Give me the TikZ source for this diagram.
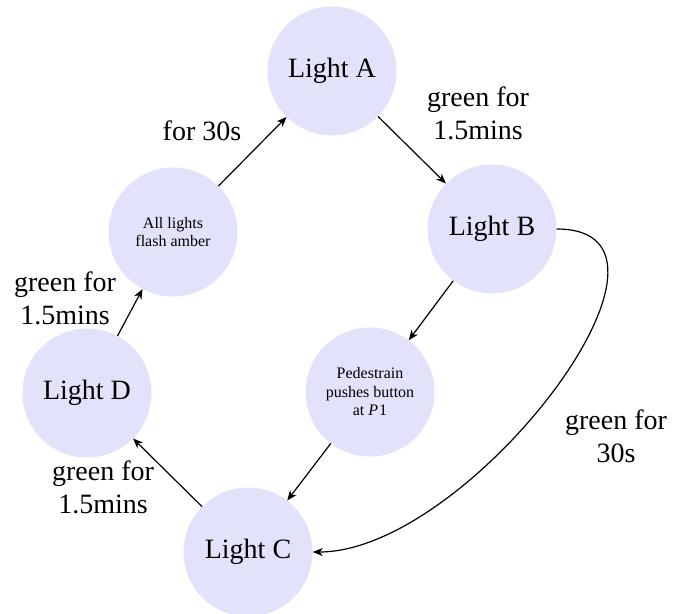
\documentclass[tikz,border=0pt]{standalone}
\usepackage{fontspec}
\setmainfont{Liberation Serif}
\usetikzlibrary{arrows.meta}
\definecolor{statefill}{RGB}{226,226,251}
\begin{document}
\begin{tikzpicture}[x=1pt,y=-1pt,
  state/.style={circle,fill=statefill,minimum size=129pt,inner sep=0pt,align=center,
    font=\fontsize{28}{32}\selectfont},
  smallstate/.style={state,font=\fontsize{16}{18.5}\selectfont},
  lbl/.style={align=center,font=\fontsize{28}{33}\selectfont,inner sep=0pt},
  arr/.style={line width=1.2pt,-{Stealth[length=10pt,width=8pt,inset=3pt]}}]
\useasboundingbox (0,0) rectangle (673,614);
\node[state] (A) at (332,71) {Light A};
\node[state] (B) at (492,229) {Light B};
\node[smallstate] (P) at (370,392) {Pedestrain\\pushes button\\at \textit{P}\kern1pt1};
\node[state] (C) at (248,552) {Light C};
\node[state] (D) at (87,393) {Light D};
\node[smallstate] (F) at (173,232) {All lights\\flash amber};
\node[lbl] (l1) at (202,131) {for 30s};
\node[lbl] (l2) at (478,113) {green for\\1.5mins};
\node[lbl] (l3) at (616,436) {green for\\30s};
\node[lbl] (l4) at (103,487) {green for\\1.5mins};
\node[lbl] (l5) at (65,298) {green for\\1.5mins};
\draw[arr] (F) -- (A);
\draw[arr] (A) -- (B);
\draw[arr] (B) -- (P);
\draw[arr] (P) -- (C);
\draw[arr] (B.east) to[out=0,in=0] (C.east);
\draw[arr] (C) -- (D);
\draw[arr] (D) -- (F);
\end{tikzpicture}
\end{document}
